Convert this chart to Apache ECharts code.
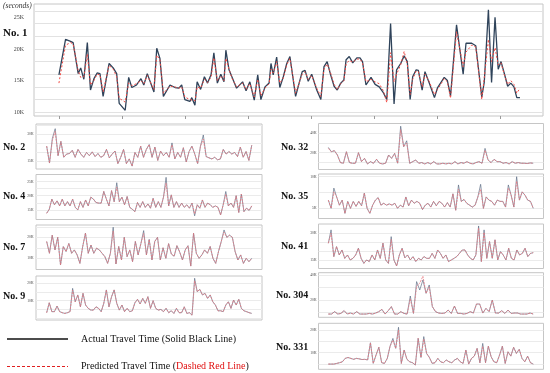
<!DOCTYPE html>
<html><head><meta charset="utf-8">
<script src="https://cdn.jsdelivr.net/npm/echarts@6/dist/echarts.min.js"></script>
<style>html,body{margin:0;padding:0;background:#fff}#c{width:550px;height:373px}</style>
</head><body><div id="c"></div>
<script>
// ---------------- DATA (values in thousands of seconds) ----------------
const mainX = [0,2.1,3.7,4.5,6.1,6.9,7.9,9.0,10.0,11.1,12.1,13.0,14.0,15.9,17.2,18.3,19.1,21.0,22.1,23.1,24.6,26.0,26.9,28.0,30.1,31.0,32.0,33.1,35.2,36.8,38.0,38.9,39.9,41.5,42.1,43.1,43.8,44.9,46.1,47.1,48.2,49.1,50.2,51.3,52.3,52.9,53.9,54.9,56.3,58.2,59.3,60.5,61.9,63.0,64.0,65.3,66.6,67.2,67.9,69.0,70.0,71.1,72.2,73.2,75.0,77.1,78.0,79.0,80.1,81.7,83.0,84.0,85.0,86.1,87.2,88.2,89.3,90.3,91.0,92.0,93.1,94.4,95.4,96.2,97.3,98.9,100.2,101.5,102.8,103.9,105.1,106.2,107.0,108.3,109.4,110.4,111.3,112.1,113.2,113.9,115.1,116.0,117.3,119.0,120.0,122.1,123.1,124.1,126.0,128.1,129.0,130.8,132.1,134.0,134.8,136.1,137.1,138.2,139.2,140.1,141.1,142.2,143.2,144.2,145.1,146.1];
const mainActual = [15.9,21.5,21.2,21.0,16.1,17.0,15.2,21.0,13.5,15.3,16.2,16.1,12.5,17.7,17.0,16.1,11.4,10.3,15.5,13.9,14.3,15.3,14.3,16.1,13.2,20.1,18.5,12.5,14.3,13.9,13.8,14.3,12.0,11.7,12.3,11.1,14.8,13.6,15.6,14.6,15.9,19.4,14.6,16.0,14.8,19.8,16.7,15.5,13.8,14.8,13.4,14.8,11.9,15.9,12.0,14.0,14.6,17.7,15.9,18.7,13.9,15.6,17.7,18.8,12.5,16.4,16.6,14.9,16.0,13.5,12.0,17.2,18.0,15.9,14.1,13.5,14.6,15.1,18.3,18.8,17.8,18.6,18.6,18.0,14.3,15.5,14.4,14.0,13.1,12.0,24.0,11.3,16.7,17.7,18.9,18.0,12.0,15.6,16.7,16.6,13.5,16.4,14.7,12.3,13.9,15.5,15.0,12.6,23.8,16.0,20.9,20.9,20.5,12.4,14.8,26.2,14.7,25.0,16.8,18.0,16.2,14.1,14.6,14.0,12.3,12.3];
const mainPredicted = [14.6,20.6,21.0,20.8,16.6,15.5,15.6,19.2,14.3,15.0,16.0,15.9,13.2,17.4,16.8,15.6,12.2,11.6,14.6,14.2,14.5,15.0,14.5,15.8,13.6,19.0,18.3,13.0,14.1,14.0,13.8,14.0,12.4,12.0,12.1,11.8,14.0,13.8,15.2,14.7,15.5,18.6,15.0,15.7,15.0,18.5,16.8,15.3,14.0,14.6,13.6,14.5,12.4,15.2,12.6,13.8,14.5,16.8,16.2,18.0,14.6,15.4,17.5,18.5,13.0,16.0,16.4,15.2,15.8,13.8,12.5,16.8,17.6,16.2,14.4,13.6,14.5,15.0,17.6,18.2,17.9,18.4,18.4,17.8,14.8,15.2,14.8,14.5,13.4,11.5,19.4,14.8,16.0,17.5,19.6,17.6,12.8,15.2,16.5,16.4,14.0,16.0,14.9,12.8,13.6,15.3,14.8,12.2,22.7,17.2,19.5,20.6,20.3,12.0,15.5,21.5,18.0,20.2,17.5,17.8,16.0,14.4,15.0,14.4,13.0,13.8];

const no2Actual = [23.3,13.9,27.7,33.0,18.0,25.9,17.1,18.9,19.2,21.0,17.1,21.5,18.9,17.1,19.8,18.0,20.1,17.5,19.2,17.1,18.0,21.5,16.8,18.9,20.6,13.6,17.1,21.5,13.6,16.2,12.2,19.8,17.1,23.3,17.1,21.5,24.2,17.1,22.8,15.4,20.6,18.0,19.8,17.1,25.1,16.2,19.8,17.1,22.4,14.5,20.3,23.3,18.9,13.6,23.3,29.5,17.5,16.8,16.2,17.1,15.7,16.2,21.5,18.9,20.3,18.9,19.8,17.5,22.8,17.1,20.3,15.4,23.8];
const no2PredictedDiffs = {2:26.5,3:31.5,44:24.0,55:27.2};
const no4Actual = [13.8,15.2,18.8,16.8,18.2,16.4,18.8,16.4,17.9,16.4,18.8,15.9,15.0,17.9,15.9,18.5,16.4,19.5,18.8,17.6,17.4,17.4,21.5,18.8,16.4,21.8,17.9,24.6,17.9,19.5,16.8,19.7,15.9,15.2,14.4,17.6,15.9,17.9,15.9,17.1,15.6,19.1,15.9,17.9,15.9,19.5,26.5,16.4,20.3,15.9,17.9,15.9,17.4,15.9,16.8,15.6,17.4,12.9,16.8,15.6,18.5,15.9,17.4,16.8,15.9,16.4,15.9,13.2,16.8,21.5,16.4,17.4,15.9,20.0,14.1,20.6,14.4,15.6,14.8,16.4];
const no4PredictedDiffs = {27:23.0,46:24.5,57:13.6,69:20.5};
const no7Actual = [18.0,12.4,21.0,14.0,20.0,6.8,15.6,13.2,17.1,12.4,14.0,11.6,7.6,15.6,22.0,12.4,16.3,12.4,14.8,14.0,12.4,10.8,7.6,12.4,24.8,7.3,15.6,9.2,20.0,10.8,14.0,8.4,18.0,11.6,17.0,23.2,11.6,19.0,9.2,18.0,20.0,9.2,15.0,10.0,17.0,12.0,11.0,16.0,13.0,9.2,14.0,16.0,6.3,22.0,12.4,10.0,11.6,14.0,12.4,15.6,10.0,7.6,13.2,18.0,23.5,20.0,21.0,20.0,13.2,9.2,11.6,7.6,10.0,8.4,10.0];
const no7PredictedDiffs = {24:23.0,35:21.8,64:22.5};
const no9Actual = [3.1,8.8,3.7,3.7,6.9,3.7,3.1,2.7,3.1,3.7,17.1,9.4,13.3,6.5,14.2,7.5,5.6,4.6,4.6,6.5,5.6,3.7,8.5,16.2,6.5,12.3,16.2,8.5,4.6,7.5,3.7,5.6,3.7,4.2,8.8,10.8,8.1,11.3,8.5,12.3,5.6,10.0,5.6,4.6,5.0,3.7,5.6,3.1,4.2,2.7,5.6,3.1,3.1,6.5,2.7,3.1,1.7,22.9,15.2,16.5,13.3,14.2,11.3,13.3,9.4,7.5,4.2,4.2,3.7,7.5,9.4,5.6,10.4,7.5,10.8,5.6,4.2,3.7,3.1,2.7];
const no9PredictedDiffs = {10:16.0,57:21.5};
const no32Actual = [25.5,21.0,22.1,17.6,9.7,9.0,21.0,9.7,9.0,9.0,20.0,10.7,14.1,8.3,10.7,9.0,13.1,9.0,8.3,9.0,17.6,14.1,19.3,9.0,47.6,26.2,32.4,9.0,10.7,12.4,9.0,9.7,8.3,9.7,8.3,10.7,8.3,8.3,9.0,8.3,9.0,8.3,10.7,8.3,9.7,9.0,10.7,9.0,8.3,9.7,10.7,9.0,24.5,12.4,9.7,13.1,10.7,10.7,9.0,9.7,8.3,10.7,9.0,9.7,9.0,9.0,8.7,9.3,9.0];
const no32PredictedDiffs = {0:24.5,24:44.0,26:30.0,52:22.5};
const no35Actual = [6.3,5.0,8.2,6.8,5.5,6.3,4.2,6.1,5.0,6.1,5.3,6.1,5.4,7.4,5.0,4.2,5.5,6.3,6.7,5.5,5.8,5.5,5.7,5.5,5.8,5.0,5.5,5.2,6.8,5.4,6.3,5.8,6.1,5.8,4.8,5.5,5.8,5.2,6.1,5.4,6.1,5.8,5.2,5.9,5.2,7.3,4.7,8.7,6.1,6.4,5.8,5.5,5.2,5.5,6.8,8.8,5.0,6.8,6.3,6.1,5.5,6.3,6.1,6.1,5.2,8.7,7.1,5.2,10.0,6.3,7.6,7.1,6.3,6.1,5.0];
const no35PredictedDiffs = {2:7.6,47:8.0,55:8.0,65:8.2,68:9.3};
const no41Actual = [24.4,31.9,16.9,22.5,17.8,20.6,15.9,17.8,15.0,15.9,17.8,21.6,15.9,13.1,15.0,14.1,17.8,15.0,20.6,15.9,24.4,15.0,13.1,28.1,15.0,11.6,17.8,21.6,16.2,17.8,15.0,16.9,14.1,15.9,15.0,16.9,15.9,15.9,18.7,15.9,20.6,18.7,15.9,17.8,14.1,15.0,15.9,16.9,18.7,20.6,20.6,17.8,15.9,15.0,17.8,34.1,14.1,31.9,15.9,25.3,15.9,26.3,15.0,19.7,17.8,15.0,21.6,15.9,15.0,20.6,17.8,18.7,21.6,16.9,18.7,19.1];
const no41PredictedDiffs = {1:30.0,23:26.5,55:33.0,57:30.5};
const no304Actual = [8.8,8.8,10.7,8.8,9.3,11.5,8.8,9.6,8.8,10.7,8.8,8.8,8.8,9.3,8.8,9.6,10.7,12.5,8.8,11.5,14.7,8.8,8.8,10.7,9.3,8.8,23.2,9.3,34.7,28.0,36.0,25.3,32.0,14.7,10.7,9.6,9.3,9.6,12.0,9.3,15.2,9.3,9.3,8.8,9.3,10.7,9.6,16.8,16.8,9.6,13.3,10.7,20.0,9.6,9.6,11.5,9.3,12.0,9.3,9.6,9.6,8.8,8.8,8.8,9.6,8.8];
const no304PredictedDiffs = {26:21.0,28:31.0,29:33.5,30:39.0,32:30.5};
const no331Actual = [5.0,5.0,5.0,5.3,5.6,6.0,7.5,7.9,7.5,7.1,7.5,7.3,7.0,7.1,6.8,14.4,5.3,9.0,12.4,5.6,5.3,7.5,12.9,16.3,11.9,21.2,5.3,11.2,7.1,6.0,5.6,4.6,16.3,7.9,17.1,9.7,7.9,5.3,5.6,7.5,6.0,5.6,6.8,6.0,5.6,6.8,7.5,6.0,5.3,11.2,5.0,7.5,8.5,11.9,5.6,14.1,5.6,12.9,8.2,6.0,5.6,9.0,12.9,5.3,10.4,8.5,12.4,9.7,11.5,7.5,6.0,8.5,5.6,5.0];
const no331PredictedDiffs = {23:15.5,25:20.0,34:16.0,55:12.8};

// tick labels (K) and horizontal grid lines (K)
const yLabels1 = [10,15,20,25],  yGrid1 = [10,12,14,16,18,20,22,24,26];
const xTicks1 = [0,20,40,60,80,100,120,140];
const yLabels2 = [15,30],   yGrid2 = [15,20,25,30,35];
const yLabels4 = [15,20,25], yGrid4 = [15,17.5,20,22.5,25];
const yLabels7 = [10,20],   yGrid7 = [10,15,20,25];
const yLabels9 = [10,20],   yGrid9 = [0,5,10,15,20];
const yLabels32 = [20,40],  yGrid32 = [10,20,30,40];
const yLabels35 = [5,10],   yGrid35 = [5,7.5,10];
const yLabels41 = [15,30],  yGrid41 = [15,20,25,30];
const yLabels304 = [20,40], yGrid304 = [10,20,30,40];
const yLabels331 = [10,20], yGrid331 = [5,10,15,20];

function applyDiffs(arr, diffs){ const out = arr.slice(); for (const k in diffs) out[+k] = diffs[k]; return out; }

const panels = [
  {name:'No. 1', x: mainX, act: mainActual, pred: mainPredicted, labels: yLabels1, grid: yGrid1, ticks: xTicks1},
  {name:'No. 2', act: no2Actual, pred: applyDiffs(no2Actual, no2PredictedDiffs), labels: yLabels2, grid: yGrid2},
  {name:'No. 4', act: no4Actual, pred: applyDiffs(no4Actual, no4PredictedDiffs), labels: yLabels4, grid: yGrid4},
  {name:'No. 7', act: no7Actual, pred: applyDiffs(no7Actual, no7PredictedDiffs), labels: yLabels7, grid: yGrid7},
  {name:'No. 9', act: no9Actual, pred: applyDiffs(no9Actual, no9PredictedDiffs), labels: yLabels9, grid: yGrid9},
  {name:'No. 32', act: no32Actual, pred: applyDiffs(no32Actual, no32PredictedDiffs), labels: yLabels32, grid: yGrid32},
  {name:'No. 35', act: no35Actual, pred: applyDiffs(no35Actual, no35PredictedDiffs), labels: yLabels35, grid: yGrid35},
  {name:'No. 41', act: no41Actual, pred: applyDiffs(no41Actual, no41PredictedDiffs), labels: yLabels41, grid: yGrid41},
  {name:'No. 304', act: no304Actual, pred: applyDiffs(no304Actual, no304PredictedDiffs), labels: yLabels304, grid: yGrid304},
  {name:'No. 331', act: no331Actual, pred: applyDiffs(no331Actual, no331PredictedDiffs), labels: yLabels331, grid: yGrid331}
];

// ---------------- LAYOUT ----------------
const layout = [
  {box:[34,4,509,112],      y:[9.4,27.1],   xr:[-7.9,153.4], lab:[3,33],   fs:11,   tfs:6,   tmar:10, gc:'#e2e2e2'},
  {box:[36,124,226,45],     y:[10.6,35.6],  col:'L', lab:[3,147],  fs:10, tfs:3.6, tmar:2.5},
  {box:[36,174.5,226,45],   y:[11.6,27.5],  col:'L', lab:[3,196.5],fs:10, tfs:3.6, tmar:2.5},
  {box:[36,225,226,44.5],   y:[4.67,25.86], col:'L', lab:[3,247.5],fs:10, tfs:3.6, tmar:2.5},
  {box:[36,276,226,44],     y:[-1.1,24.2],  col:'L', lab:[3,296.7],fs:10, tfs:3.6, tmar:2.5},
  {box:[318.5,123.5,225,46],  y:[2.5,50.4],   col:'R', lab:[281,147.3],fs:10, tfs:3.6, tmar:2},
  {box:[318.5,174,225,44.5],  y:[3.39,10.43], col:'R', lab:[281,196.5],fs:10, tfs:3.6, tmar:2},
  {box:[318.5,224,225,44.5],  y:[10.2,35.2],  col:'R', lab:[281,246],  fs:10, tfs:3.6, tmar:2},
  {box:[318.5,272.7,225,44.6],y:[6.2,41.8],   col:'R', lab:[276,295],  fs:10, tfs:3.6, tmar:2},
  {box:[318.5,323.3,225,46],  y:[2.7,22.95],  col:'R', lab:[276,347.7],fs:10, tfs:3.6, tmar:2}
];

const SERIF = '"Liberation Serif", "Times New Roman", serif';
const grids = [], xAxes = [], yAxes = [], series = [], graphic = [];

panels.forEach((p, i) => {
  const L = layout[i];
  const n = p.act.length;
  const xs = p.x || p.act.map((_, k) => k);
  let xr = L.xr;
  if (!xr) xr = L.col === 'L' ? [-(n-1)*0.052, (n-1)*1.05] : [-(n-1)*0.048, (n-1)*1.05];
  grids.push({left:L.box[0], top:L.box[1], width:L.box[2], height:L.box[3], show:true,
    borderColor:'#c6c6c6', borderWidth:1, backgroundColor:'rgba(0,0,0,0)', containLabel:false, outerBoundsMode:'none'});
  xAxes.push({gridIndex:i, type:'value', min:xr[0], max:xr[1],
    axisLine:{show:false}, axisLabel:{show:false}, splitLine:{show:false},
    axisTick: p.ticks ? {show:true, customValues:p.ticks, length:3, lineStyle:{color:'#9a9a9a'}} : {show:false}});
  yAxes.push({gridIndex:i, type:'value', min:L.y[0], max:L.y[1],
    axisLine:{show:false},
    axisTick:{show:false, customValues:p.grid},
    axisLabel:{customValues:p.labels, formatter: v => v + 'K', fontSize:L.tfs, fontFamily:SERIF, color:'#444', margin:L.tmar},
    splitLine:{show:true, lineStyle:{color: L.gc || '#ebebeb', width:1}}});
  const main = i === 0;
  series.push({type:'line', xAxisIndex:i, yAxisIndex:i, data: xs.map((x,k)=>[x, p.act[k]]),
    symbol:'none', silent:true, z:3, clip:false,
    lineStyle:{color: main ? '#2f435a' : '#55667f', width: main ? 1.3 : 0.65}});
  series.push({type:'line', xAxisIndex:i, yAxisIndex:i, data: xs.map((x,k)=>[x, p.pred[k]]),
    symbol:'none', silent:true, z:4, clip:false,
    lineStyle:{color: main ? '#f04a44' : '#e87880', width: main ? 1 : 0.8, type: main ? [2,2] : [2,1]}});
  graphic.push({type:'text', x:L.lab[0], y:L.lab[1], style:{text:p.name, font:'bold ' + L.fs + 'px ' + SERIF, fill:'#111', verticalAlign:'middle'}});
});

graphic.push({type:'text', x:3, y:6, style:{text:'(seconds)', font:'italic 7.5px ' + SERIF, fill:'#333', verticalAlign:'middle'}});
graphic.push({type:'line', shape:{x1:7, y1:339, x2:68, y2:339}, style:{stroke:'#111', lineWidth:1.5}});
graphic.push({type:'line', shape:{x1:7, y1:366.5, x2:68, y2:366.5}, style:{stroke:'#e02020', lineWidth:1.2, lineDash:[3,2]}});
graphic.push({type:'text', x:81, y:339, style:{text:'Actual Travel Time (Solid Black Line)', font:'10px ' + SERIF, fill:'#111', verticalAlign:'middle'}});
graphic.push({type:'text', x:81, y:366.5, style:{text:'{a|Predicted Travel Time (}{b|Dashed Red Line}{a|)}', font:'10px ' + SERIF, fill:'#111', verticalAlign:'middle',
  rich:{a:{fill:'#111', font:'10px ' + SERIF}, b:{fill:'#e01010', font:'10px ' + SERIF}}}});

const chart = echarts.init(document.getElementById('c'), null, {renderer:'canvas'});
chart.setOption({animation:false, grid:grids, xAxis:xAxes, yAxis:yAxes, series, graphic});
</script></body></html>
